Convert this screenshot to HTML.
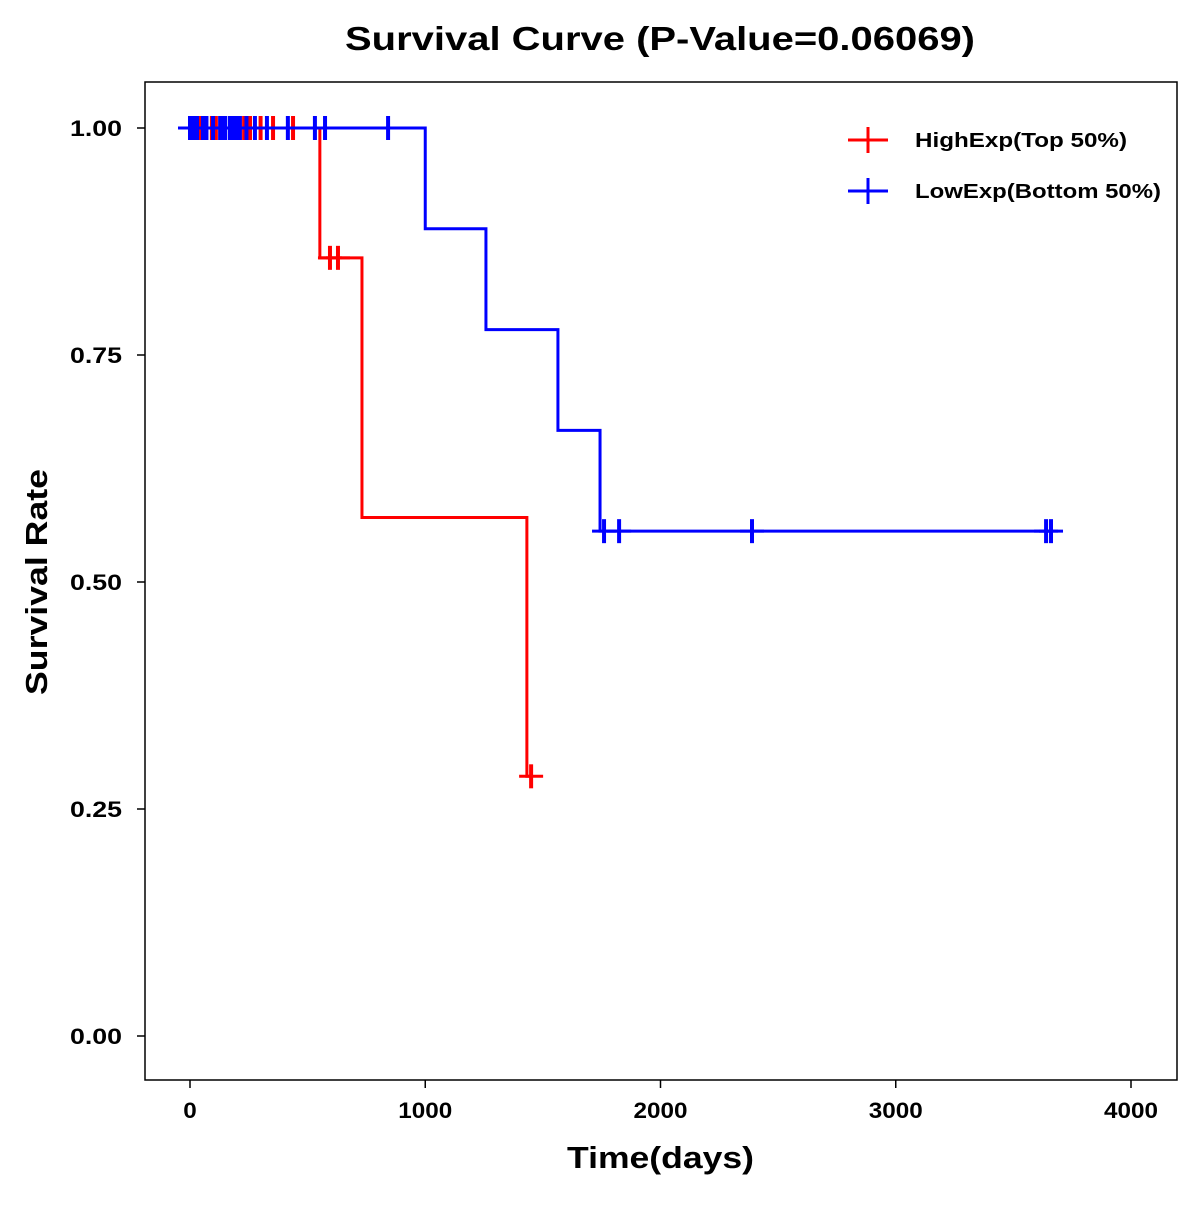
<!DOCTYPE html>
<html><head><meta charset="utf-8"><style>
body{margin:0;background:#fff}
svg text{font-family:"Liberation Sans",Arial,sans-serif;font-weight:bold}
</style></head><body>
<svg id="chart" width="1200" height="1200" viewBox="0 0 1200 1200">
<rect x="0" y="0" width="1200" height="1200" fill="#fff"/>
<text x="345" y="50" font-size="33" textLength="630" lengthAdjust="spacingAndGlyphs">Survival Curve (P-Value=0.06069)</text>
<rect x="145" y="82" width="1032" height="998" fill="none" stroke="#000" stroke-width="1.5"/>
<g id="axes"></g>
<g id="series"></g>
<text x="567" y="1168" font-size="31" textLength="187" lengthAdjust="spacingAndGlyphs">Time(days)</text>
<text x="0" y="0" font-size="31" textLength="226" lengthAdjust="spacingAndGlyphs" transform="translate(47 695) rotate(-90)">Survival Rate</text>
<g>
<g>
<line x1="848" y1="140" x2="888" y2="140" stroke="#f00" stroke-width="3"/><line x1="868" y1="127" x2="868" y2="153" stroke="#f00" stroke-width="3"/>
<text x="915" y="147" font-size="20" textLength="212" lengthAdjust="spacingAndGlyphs">HighExp(Top 50%)</text></g>
<g>
<line x1="848" y1="191" x2="888" y2="191" stroke="#00f" stroke-width="3"/><line x1="868" y1="178" x2="868" y2="204" stroke="#00f" stroke-width="3"/>
<text x="915" y="198" font-size="20" textLength="246" lengthAdjust="spacingAndGlyphs">LowExp(Bottom 50%)</text></g>
</g>
</svg>
<script>
const xTicks=[0,1000,2000,3000,4000];
const yTicks=[0,0.25,0.5,0.75,1.0];
const yTickLabels=["0.00","0.25","0.50","0.75","1.00"];
const highTimes=[0,552,731,1432];
const highSurv=[1.0,0.857,0.571,0.286];
const highEnd=1450;
const highCensorT=[20,42,60,93,110,136,175,212,230,255,300,353,438,595,629,1450];
const highCensorS=[1,1,1,1,1,1,1,1,1,1,1,1,1,0.857,0.857,0.286];
const lowTimes=[0,1000,1258,1564,1743];
const lowSurv=[1.0,0.889,0.778,0.667,0.556];
const lowEnd=3660;
const lowCensorT=[0,8,20,30,55,70,98,128,140,150,170,185,200,212,240,276,327,416,531,574,842,1760,1824,2389,3639,3660];
const lowCensorS=[1,1,1,1,1,1,1,1,1,1,1,1,1,1,1,1,1,1,1,1,1,0.556,0.556,0.556,0.556,0.556];
const X=t=>190+t*0.23525, Y=s=>1036-s*908;
const NS="http://www.w3.org/2000/svg";
function mk(tag,attrs,parent){const e=document.createElementNS(NS,tag);for(const k in attrs)e.setAttribute(k,attrs[k]);parent.appendChild(e);return e;}
const ax=document.getElementById('axes');
xTicks.forEach(t=>{
 const l=mk('line',{x1:X(t),x2:X(t),y1:1080,y2:1088,stroke:'#000','stroke-width':1.5},ax);
 
 
 const s=String(t);
 const tx=mk('text',{x:X(t),y:1118,'font-size':22,'text-anchor':'middle',textLength:s.length*13.5,lengthAdjust:'spacingAndGlyphs'},ax);tx.textContent=s;
 
 
});
yTicks.forEach((v,i)=>{
 const l=mk('line',{x1:137,x2:145,y1:Y(v),y2:Y(v),stroke:'#000','stroke-width':1.5},ax);
 
 
 const tx=mk('text',{x:122,y:Y(v)+8,'font-size':22,'text-anchor':'end',textLength:52,lengthAdjust:'spacingAndGlyphs'},ax);tx.textContent=yTickLabels[i];
 
 
});
const sg=document.getElementById('series');
function drawSeries(times,surv,end,ct,cs,color,name){
 let d=`M${X(times[0])},${Y(surv[0])}`;
 for(let i=1;i<times.length;i++){d+=`H${X(times[i])}V${Y(surv[i])}`;}
 d+=`H${X(end)}`;
 const p=mk('path',{d:d,fill:'none',stroke:color,'stroke-width':3},sg);
 
 
 ct.forEach((t,i)=>{
  const g=mk('g',{},sg);
  
  
  mk('line',{x1:X(t)-12,x2:X(t)+12,y1:Y(cs[i]),y2:Y(cs[i]),stroke:color,'stroke-width':3},g);
  mk('line',{x1:X(t),x2:X(t),y1:Y(cs[i])-12,y2:Y(cs[i])+12,stroke:color,'stroke-width':4},g);
 });
}
drawSeries(highTimes,highSurv,highEnd,highCensorT,highCensorS,'#f00','high-exp');
drawSeries(lowTimes,lowSurv,lowEnd,lowCensorT,lowCensorS,'#00f','low-exp');
</script>
</body></html>
